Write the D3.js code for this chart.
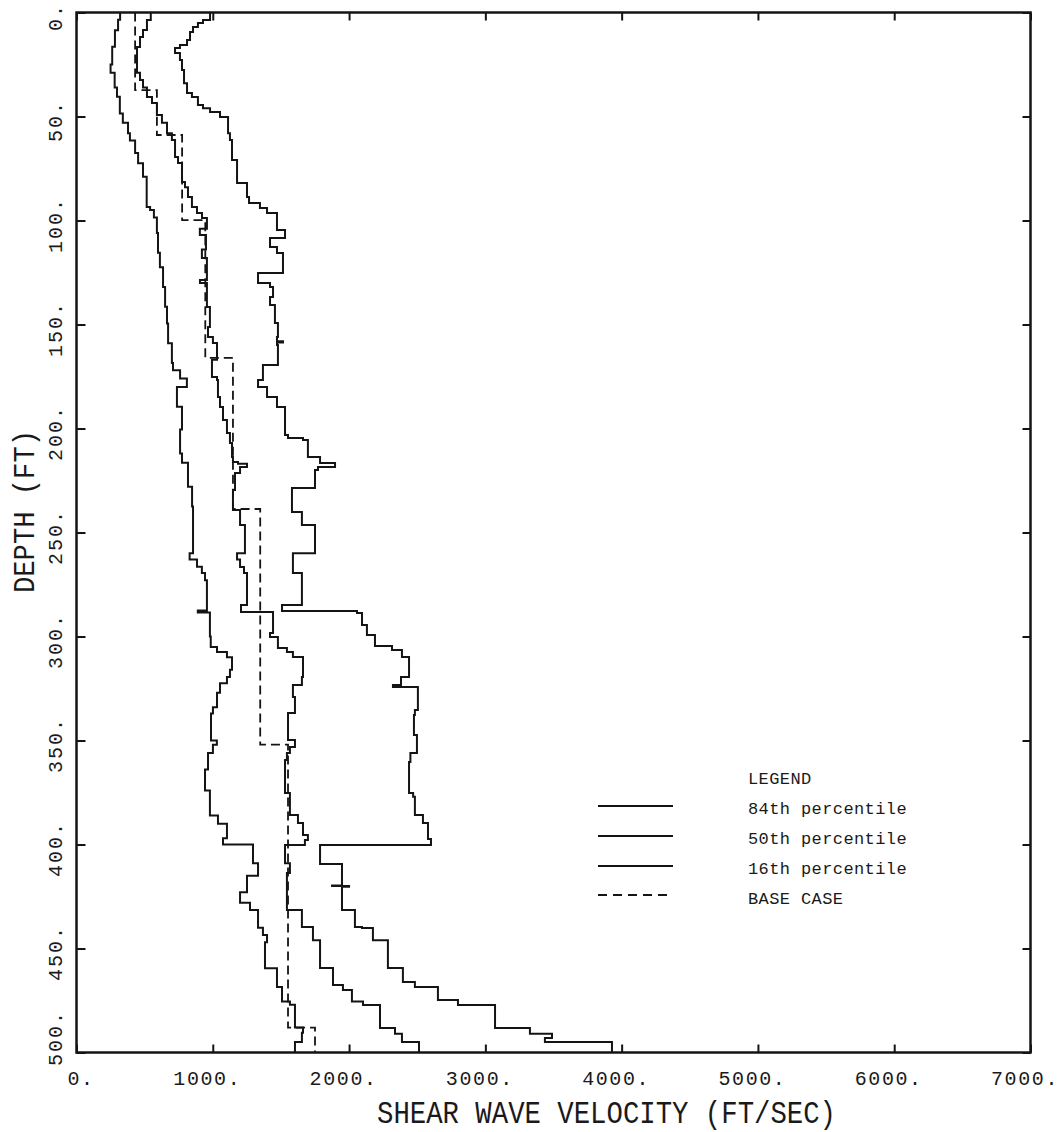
<!DOCTYPE html>
<html>
<head>
<meta charset="utf-8">
<script src="https://cdn.jsdelivr.net/npm/d3@7/dist/d3.min.js"></script>
<style>
  body { margin: 0; background: #fff; }
  svg text { font-family: "Liberation Mono", "DejaVu Sans Mono", monospace; fill: #1a1a1a; }
</style>
</head>
<body>
<svg id="chart" width="1064" height="1132"></svg>
<script>
// Shear-wave velocity profiles: each layer is given by its top depth (ft)
// and its velocity (ft/sec); the layer runs down to the next top depth.
const p84Depth = [0,3.6,5.1,7,9.4,13.2,15.6,17.1,19.5,22.8,27.6,34,38.7,40.6,44.5,46,47.8,50.2,58,61.3,70.9,82,88.7,91.6,94,96.4,104.6,108.4,112.7,115.6,125.2,130,132,136.8,140.6,149.3,156,158,158.6,159.9,169.5,176.7,180,184.9,189.7,203.1,204.6,205.5,213.7,216.6,218.5,220,228.6,240.1,246.4,260,269.5,284.8,287.7,288.7,294.5,299.3,304.6,306.5,309.9,319.5,323.3,324.3,335.3,337.7,347.4,356,360.3,375.2,377,385.8,389.7,397.4,400.2,409.4,419.7,420,420.3,431.5,439.7,440.1,446,459.4,466.1,468.5,474.8,477.2,488.2,491,493,495];
const p84Vel   = [980,928,891,855,833,811,759,723,759,774,789,811,847,891,928,980,1053,1112,1126,1141,1178,1251,1266,1346,1398,1471,1530,1420,1471,1515,1332,1420,1442,1420,1456,1478,1471,1515,1471,1478,1368,1332,1398,1471,1530,1552,1662,1698,1787,1897,1772,1750,1581,1654,1750,1588,1654,1508,2058,2095,2131,2190,2315,2388,2440,2381,2322,2505,2483,2476,2498,2450,2440,2470,2483,2542,2579,2601,1787,1948,1875,2000,1948,2043,2095,2175,2285,2395,2483,2652,2799,3071,3327,3489,3437,3929];

const p50Depth = [0,3.6,8.4,11.8,16.6,29,32.5,36,40.6,43.5,49.3,53,58,61.3,69.5,72.4,81.5,84,88.7,93.5,96.4,98.8,104,107,114,118,128.6,130,141.6,151.2,156,158.9,167,175.2,176.7,184.9,189.7,195.9,202.2,207,213.7,216.1,217,218.5,221.4,229.6,239.2,246.4,260,263,266.6,269.5,284.8,288.2,298.3,300.2,305.5,307.5,309.9,319.5,323.3,329.1,336.8,349.8,353.1,356,359.4,375.2,385.8,389.7,395.4,397.8,400.2,409,413.7,431.5,439.7,446,459.4,467.5,470,475.5,477.2,488.2,491,495];
const p50Vel   = [545,517,488,466,444,466,488,517,554,590,627,664,700,723,745,774,796,818,847,884,921,957,905,950,920,957,906,957,979,965,1001,1031,994,1031,1038,1053,1075,1104,1126,1141,1148,1185,1251,1200,1163,1148,1200,1236,1178,1200,1229,1251,1207,1442,1420,1478,1544,1588,1662,1654,1588,1603,1552,1603,1566,1544,1530,1566,1625,1662,1698,1676,1530,1566,1544,1654,1735,1787,1882,1955,2021,2102,2227,2337,2388,2513];

const p16Depth = [0,3.5,8.5,16.5,25,29,36,40.5,48.5,53,58,61.5,67.5,72.5,79,93.5,95,98.5,106,115.5,122.5,132,141.5,149.5,159,168.5,172,176,180,189.5,200.5,212,216.5,228,237.5,260,263,266.5,269.5,273,287.5,288.5,300,305,307.5,310,316,319.5,322.5,327,334,337,350,352,356,364,374,386,390,397,400,409,415,423,428,431.5,440,443.5,447,459.5,468.5,475.5,477,488,490.5,495];
const p16Vel   = [320,305,282,262,250,280,297,318,340,378,392,430,452,488,515,540,568,590,598,612,635,650,664,672,700,708,760,810,737,774,760,774,818,848,855,830,884,920,943,957,890,979,985,1031,1104,1141,1126,1104,1053,1031,1001,987,1030,1001,965,943,979,1038,1104,1075,1295,1332,1251,1200,1273,1332,1368,1398,1383,1471,1508,1566,1603,1662,1654,1603];

const baseDepth = [0,37.3,58.9,99.8,166,238.7,352,488];
const baseVel   = [430,590,775,945,1148,1348,1552,1750];

const xTicks = [0,1000,2000,3000,4000,5000,6000,7000];
const yTicks = [0,50,100,150,200,250,300,350,400,450,500];
const legendTitle = "LEGEND";
const legendLabels = ["84th percentile","50th percentile","16th percentile","BASE CASE"];

const maxDepth = 500;
const INK = "#141414";

const svg = d3.select("#chart");
const plot = { left: 76.5, right: 1030.5, top: 12.5, bottom: 1052.5 };

const x = d3.scaleLinear().domain([0, 7000]).range([plot.left, plot.right]);
const y = d3.scaleLinear().domain([0, maxDepth]).range([plot.top, plot.bottom]);

// layer tops -> step polyline (vertical through each layer, horizontal at boundaries)
function profile(depths, vels) {
  const pts = depths.map((d, i) => [vels[i], d]);
  pts.push([vels[vels.length - 1], maxDepth]);
  return pts;
}
const stepLine = d3.line()
  .x(p => x(p[0]))
  .y(p => y(p[1]))
  .curve(d3.curveStepBefore);

const curves = svg.append("g").attr("fill", "none").attr("stroke", INK)
  .attr("stroke-linejoin", "miter");

[[p84Depth, p84Vel], [p50Depth, p50Vel], [p16Depth, p16Vel]].forEach(([d, v]) => {
  curves.append("path").attr("d", stepLine(profile(d, v))).attr("stroke-width", 2);
});
curves.append("path")
  .attr("d", stepLine(profile(baseDepth, baseVel)))
  .attr("stroke-width", 1.8)
  .attr("stroke-dasharray", "9,5");

// frame
svg.append("rect")
  .attr("x", plot.left).attr("y", plot.top)
  .attr("width", plot.right - plot.left).attr("height", plot.bottom - plot.top)
  .attr("fill", "none").attr("stroke", INK).attr("stroke-width", 2.5);

const fmt = d => d + ".";
function styleAxis(g) {
  g.select(".domain").remove();
  g.attr("font-family", null).attr("font-size", 20).attr("color", INK);
  g.selectAll(".tick line").attr("stroke-width", 2);
}

// bottom axis: inward ticks, labels below
const gB = svg.append("g").attr("transform", `translate(0,${plot.bottom})`)
  .call(d3.axisBottom(x).tickValues(xTicks).tickSize(-8).tickFormat(fmt));
styleAxis(gB);
gB.selectAll("text")
  .attr("y", 32).attr("dy", null)
  .attr("dx", d => d === 0 ? 4 : -6)
  .attr("letter-spacing", 1.6);

// top axis: inward ticks only
const gT = svg.append("g").attr("transform", `translate(0,${plot.top})`)
  .call(d3.axisTop(x).tickValues(xTicks).tickSize(-8).tickFormat(""));
styleAxis(gT);

// left axis: inward ticks, rotated labels (the last one is kept inside the frame)
const gL = svg.append("g").attr("transform", `translate(${plot.left},0)`)
  .call(d3.axisLeft(y).tickValues(yTicks).tickSize(-9).tickFormat(fmt));
styleAxis(gL);
gL.selectAll("text")
  .attr("x", null).attr("dy", null)
  .attr("text-anchor", "middle")
  .attr("letter-spacing", 2)
  .attr("transform", d => `translate(-14.5,${d === maxDepth ? -15 : 4}) rotate(-90)`);

// right axis: inward ticks only
const gR = svg.append("g").attr("transform", `translate(${plot.right},0)`)
  .call(d3.axisRight(y).tickValues(yTicks).tickSize(-8).tickFormat(""));
styleAxis(gR);

// axis titles
svg.append("text")
  .attr("x", 377).attr("y", 1123)
  .attr("font-size", 31)
  .attr("textLength", 459).attr("lengthAdjust", "spacingAndGlyphs")
  .text("SHEAR WAVE VELOCITY (FT/SEC)");

svg.append("text")
  .attr("transform", "translate(34,593) rotate(-90)")
  .attr("font-size", 29)
  .attr("textLength", 163).attr("lengthAdjust", "spacingAndGlyphs")
  .text("DEPTH (FT)");

// legend
const legend = svg.append("g").attr("font-size", 17);
legend.append("text").attr("x", 748).attr("y", 784)
  .attr("letter-spacing", 0.4).text(legendTitle);
legendLabels.forEach((label, i) => {
  const ly = [806, 836, 866, 895][i];
  legend.append("line")
    .attr("x1", 598).attr("x2", i === 3 ? 667 : 673)
    .attr("y1", ly).attr("y2", ly)
    .attr("stroke", INK).attr("stroke-width", 2)
    .attr("stroke-dasharray", i === 3 ? "9,6" : null);
  legend.append("text")
    .attr("x", 748).attr("y", 814 + 30 * i)
    .attr("letter-spacing", 0.4)
    .text(label);
});
</script>
</body>
</html>
